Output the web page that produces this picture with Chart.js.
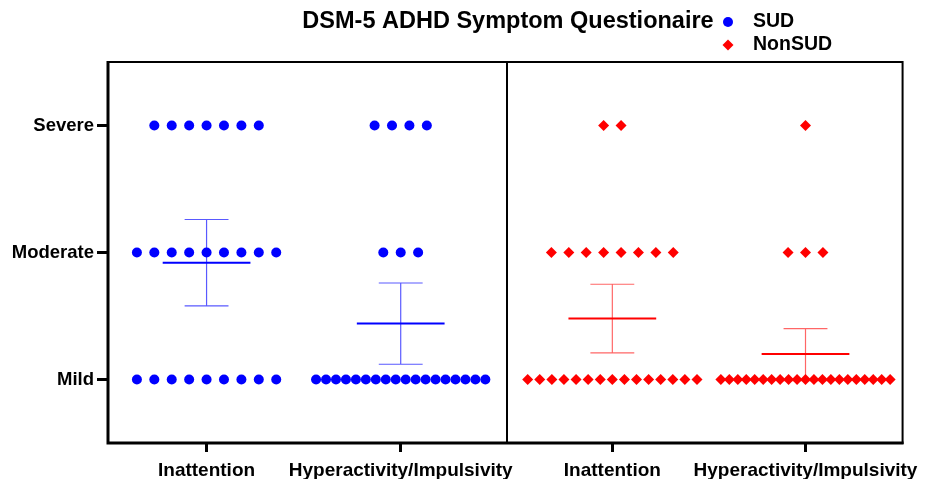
<!DOCTYPE html>
<html>
<head>
<meta charset="utf-8">
<script src="https://cdn.jsdelivr.net/npm/chart.js@4.4.1/dist/chart.umd.min.js"></script>
<style>
  html, body { margin: 0; padding: 0; background: #fff; }
</style>
</head>
<body>
<canvas id="chart" width="927" height="479"></canvas>
<script>
// Categories along x (first two = SUD panel, last two = NonSUD panel)
const groupLabels = ["Inattention", "Hyperactivity/Impulsivity", "Inattention", "Hyperactivity/Impulsivity"];
const groupCenters = [1, 2, 3.09, 4.085];
const levelLabels = ["Mild", "Moderate", "Severe"];
const levelValues = [1, 2, 3];

// Subjects per severity level, [Inattention, Hyperactivity/Impulsivity]
const sudMild = [9, 18];
const sudModerate = [9, 3];
const sudSevere = [7, 4];
const nonSudMild = [15, 21];
const nonSudModerate = [8, 3];
const nonSudSevere = [2, 1];

// Mean with 95% CI
const sudMean = [1.92, 1.44];
const sudLow = [1.58, 1.12];
const sudHigh = [2.26, 1.76];
const nonSudMean = [1.48, 1.20];
const nonSudLow = [1.21, 0.99];
const nonSudHigh = [1.75, 1.40];

const TITLE = "DSM-5 ADHD Symptom Questionaire";
const FONT = "'Liberation Sans', Arial, Helvetica, sans-serif";
const BLUE = "#0000ff";
const RED = "#ff0000";

// dot row layout (x units)
const DOT_STEP = 0.0897;
const MAX_SPREAD = 0.872;
const MEAN_HALF = 0.226;
const CAP_HALF = 0.113;
const DIVIDER_X = 2.545;

function dotRow(center, level, count) {
  const step = count > 1 ? Math.min(DOT_STEP, MAX_SPREAD / (count - 1)) : 0;
  const pts = [];
  for (let i = 0; i < count; i++) pts.push({ x: center + (i - (count - 1) / 2) * step, y: level });
  return pts;
}

function dots(centers, mild, moderate, severe) {
  let pts = [];
  centers.forEach((c, i) => {
    pts = pts.concat(dotRow(c, levelValues[0], mild[i]), dotRow(c, levelValues[1], moderate[i]), dotRow(c, levelValues[2], severe[i]));
  });
  return pts;
}

function meanLines(centers, means) {
  const pts = [];
  centers.forEach((c, i) => {
    pts.push({ x: c - MEAN_HALF, y: means[i] }, { x: c + MEAN_HALF, y: means[i] }, { x: c, y: null });
  });
  return pts;
}

function ciLines(centers, low, high) {
  const pts = [];
  centers.forEach((c, i) => {
    pts.push({ x: c, y: low[i] }, { x: c, y: high[i] }, { x: c, y: null });
    pts.push({ x: c - CAP_HALF, y: high[i] }, { x: c + CAP_HALF, y: high[i] }, { x: c, y: null });
    pts.push({ x: c - CAP_HALF, y: low[i] }, { x: c + CAP_HALF, y: low[i] }, { x: c, y: null });
  });
  return pts;
}

const sudCenters = groupCenters.slice(0, 2);
const nonCenters = groupCenters.slice(2, 4);

const lineDefaults = { type: "line", showLine: true, spanGaps: false, pointRadius: 0, fill: false, order: 2 };

// frame, panel divider, title and legend
const frameAndLegend = {
  id: "frameAndLegend",
  beforeDatasetsDraw(chart) {
    const { ctx, chartArea: a, scales: { x } } = chart;
    ctx.save();
    ctx.strokeStyle = "#000";
    ctx.lineWidth = 2;
    ctx.strokeRect(a.left, a.top, a.right - a.left, a.bottom - a.top);
    const xd = Math.round(x.getPixelForValue(DIVIDER_X));
    ctx.beginPath();
    ctx.moveTo(xd, a.top);
    ctx.lineTo(xd, a.bottom);
    ctx.stroke();
    // axes (left and bottom) a bit heavier
    ctx.lineWidth = 3;
    ctx.beginPath();
    ctx.moveTo(a.left, a.top - 1);
    ctx.lineTo(a.left, a.bottom);
    ctx.lineTo(a.right + 1, a.bottom);
    ctx.stroke();
    ctx.restore();
  },
  afterDraw(chart) {
    const ctx = chart.ctx;
    ctx.save();
    ctx.fillStyle = "#000";
    ctx.textBaseline = "middle";
    ctx.textAlign = "center";
    ctx.font = "bold 23.5px " + FONT;
    ctx.fillText(TITLE, 508, 22);

    const items = chart.data.datasets.filter((d) => d.legend);
    items.forEach((d, i) => {
      const y = 22 + i * 23;
      const lx = 728;
      ctx.fillStyle = d.backgroundColor;
      ctx.beginPath();
      if (d.pointStyle === "rectRot") {
        const r = 5.5;
        ctx.moveTo(lx, y - r); ctx.lineTo(lx + r, y); ctx.lineTo(lx, y + r); ctx.lineTo(lx - r, y);
        ctx.closePath();
      } else {
        ctx.arc(lx, y, 5, 0, Math.PI * 2);
      }
      ctx.fill();
      ctx.fillStyle = "#000";
      ctx.textAlign = "left";
      ctx.font = "bold 19.5px " + FONT;
      ctx.fillText(d.label, 753, y);
    });
    ctx.restore();
  },
};

new Chart(document.getElementById("chart"), {
  type: "scatter",
  data: {
    datasets: [
      { label: "SUD", legend: true, data: dots(sudCenters, sudMild, sudModerate, sudSevere),
        pointStyle: "circle", pointRadius: 5, backgroundColor: BLUE, borderWidth: 0, order: 0 },
      { label: "NonSUD", legend: true, data: dots(nonCenters, nonSudMild, nonSudModerate, nonSudSevere),
        pointStyle: "rectRot", pointRadius: 5.5, backgroundColor: RED, borderWidth: 0, order: 0 },
      { ...lineDefaults, label: "SUD mean", data: meanLines(sudCenters, sudMean), borderColor: BLUE, borderWidth: 2 },
      { ...lineDefaults, label: "SUD CI", data: ciLines(sudCenters, sudLow, sudHigh), borderColor: "rgba(0,0,255,0.65)", borderWidth: 1.2 },
      { ...lineDefaults, label: "NonSUD mean", data: meanLines(nonCenters, nonSudMean), borderColor: RED, borderWidth: 2 },
      { ...lineDefaults, label: "NonSUD CI", data: ciLines(nonCenters, nonSudLow, nonSudHigh), borderColor: "rgba(255,0,0,0.6)", borderWidth: 1.2 },
    ],
  },
  options: {
    responsive: false,
    animation: false,
    events: [],
    layout: { padding: { top: 62, right: 21, left: 0, bottom: 0 } },
    plugins: { legend: { display: false }, title: { display: false }, tooltip: { enabled: false } },
    scales: {
      x: {
        type: "linear", min: 0.4923, max: 4.585,
        afterBuildTicks: (s) => { s.ticks = groupCenters.map((v) => ({ value: v })); },
        afterFit: (s) => { s.height = 36; },
        ticks: {
          callback: (v, i) => groupLabels[i], autoSkip: false, maxRotation: 0, minRotation: 0,
          padding: 7, color: "#000", font: { family: FONT, size: 19, weight: "bold" },
        },
        grid: { drawOnChartArea: false, tickLength: 9, tickWidth: 3, tickColor: "#000" },
        border: { display: false },
      },
      y: {
        type: "linear", min: 0.5, max: 3.5,
        afterBuildTicks: (s) => { s.ticks = levelValues.map((v) => ({ value: v })); },
        afterFit: (s) => { s.width = 108; },
        ticks: {
          callback: (v) => levelLabels[levelValues.indexOf(v)],
          padding: 3, color: "#000", font: { family: FONT, size: 18.5, weight: "bold" },
        },
        grid: { drawOnChartArea: false, tickLength: 11, tickWidth: 3, tickColor: "#000" },
        border: { display: false },
      },
    },
  },
  plugins: [frameAndLegend],
});
</script>
</body>
</html>
